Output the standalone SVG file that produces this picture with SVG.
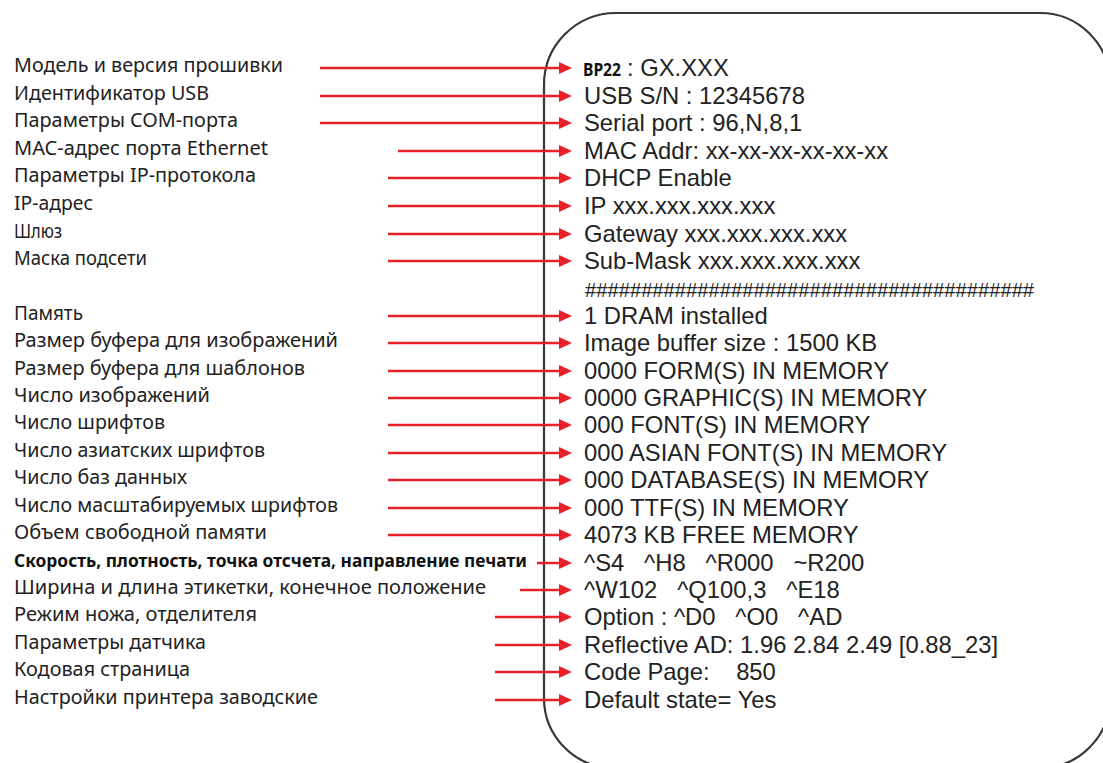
<svg xmlns="http://www.w3.org/2000/svg" width="1103" height="763" viewBox="0 0 1103 763">
<style>
.lbl{font-family:"Noto Sans","Liberation Sans",sans-serif;font-size:19px;fill:#222}
.lblb{font-family:"Noto Sans","Liberation Sans",sans-serif;font-size:18.5px;font-weight:bold;fill:#111}
.val{font-family:"Liberation Sans",Arial,sans-serif;font-size:23.8px;fill:#222}
.arr{stroke:#e8202a;stroke-width:2.5;fill:none}
.box{fill:none;stroke:#383838;stroke-width:2.2}
</style>
<defs>
<marker id="ah" markerUnits="userSpaceOnUse" markerWidth="14" markerHeight="14" refX="0" refY="6" orient="auto">
<path d="M0,0 L13,6 L0,12 Z" fill="#e8202a"/>
</marker>
</defs>
<rect width="1103" height="763" fill="#fff"/>
<g id="printout">
<path class="box" d="M544,85 A72 72 0 0 1 616,13 L1040,13 A70 70 0 0 1 1110,83 L1110,698 A70 70 0 0 1 1040,768 L614,768 A70 70 0 0 1 544,698 Z"/>
<text x="583" y="76" font-family="Noto Sans,Liberation Sans,sans-serif" font-weight="bold" font-size="18.5px" fill="#111" textLength="38" lengthAdjust="spacingAndGlyphs">BP22</text>
<text class="val" x="627" y="76">: GX.XXX</text>
<text class="val" x="584" y="104">USB S/N : 12345678</text>
<text class="val" x="584" y="131">Serial port : 96,N,8,1</text>
<text class="val" x="584" y="159">MAC Addr: xx-xx-xx-xx-xx-xx</text>
<text class="val" x="584" y="186">DHCP Enable</text>
<text class="val" x="584" y="214">IP xxx.xxx.xxx.xxx</text>
<text class="val" x="584" y="242">Gateway xxx.xxx.xxx.xxx</text>
<text class="val" x="584" y="269">Sub-Mask xxx.xxx.xxx.xxx</text>
<text class="val" x="585" y="297" style="font-size:20.2px">########################################</text>
<text class="val" x="584" y="324">1 DRAM installed</text>
<text class="val" x="584" y="351">Image buffer size : 1500 KB</text>
<text class="val" x="584" y="379">0000 FORM(S) IN MEMORY</text>
<text class="val" x="584" y="406">0000 GRAPHIC(S) IN MEMORY</text>
<text class="val" x="584" y="433">000 FONT(S) IN MEMORY</text>
<text class="val" x="584" y="461">000 ASIAN FONT(S) IN MEMORY</text>
<text class="val" x="584" y="488">000 DATABASE(S) IN MEMORY</text>
<text class="val" x="584" y="516">000 TTF(S) IN MEMORY</text>
<text class="val" x="584" y="543">4073 KB FREE MEMORY</text>
<text class="val" x="584" y="571" xml:space="preserve">^S4   ^H8   ^R000   ~R200</text>
<text class="val" x="584" y="598" xml:space="preserve">^W102   ^Q100,3   ^E18</text>
<text class="val" x="584" y="625" xml:space="preserve">Option : ^D0   ^O0   ^AD</text>
<text class="val" x="584" y="653">Reflective AD: 1.96 2.84 2.49 [0.88_23]</text>
<text class="val" x="584" y="680" xml:space="preserve">Code Page:    850</text>
<text class="val" x="584" y="708">Default state= Yes</text>
</g>
<g id="labels">
<text class="lbl" x="14" y="72" textLength="269" lengthAdjust="spacingAndGlyphs">Модель и версия прошивки</text>
<text class="lbl" x="14" y="100" textLength="195" lengthAdjust="spacingAndGlyphs">Идентификатор USB</text>
<text class="lbl" x="14" y="127" textLength="224" lengthAdjust="spacingAndGlyphs">Параметры COM-порта</text>
<text class="lbl" x="14" y="155" textLength="254" lengthAdjust="spacingAndGlyphs">MAC-адрес порта Ethernet</text>
<text class="lbl" x="14" y="182" textLength="242" lengthAdjust="spacingAndGlyphs">Параметры IP-протокола</text>
<text class="lbl" x="14" y="210" textLength="79" lengthAdjust="spacingAndGlyphs">IP-адрес</text>
<text class="lbl" x="14" y="238" textLength="48" lengthAdjust="spacingAndGlyphs">Шлюз</text>
<text class="lbl" x="14" y="265" textLength="133" lengthAdjust="spacingAndGlyphs">Маска подсети</text>
<text class="lbl" x="14" y="320" textLength="69" lengthAdjust="spacingAndGlyphs">Память</text>
<text class="lbl" x="14" y="347" textLength="324" lengthAdjust="spacingAndGlyphs">Размер буфера для изображений</text>
<text class="lbl" x="14" y="375" textLength="291" lengthAdjust="spacingAndGlyphs">Размер буфера для шаблонов</text>
<text class="lbl" x="14" y="402" textLength="196" lengthAdjust="spacingAndGlyphs">Число изображений</text>
<text class="lbl" x="14" y="429" textLength="151" lengthAdjust="spacingAndGlyphs">Число шрифтов</text>
<text class="lbl" x="14" y="457" textLength="251" lengthAdjust="spacingAndGlyphs">Число азиатских шрифтов</text>
<text class="lbl" x="14" y="484" textLength="173" lengthAdjust="spacingAndGlyphs">Число баз данных</text>
<text class="lbl" x="14" y="512" textLength="324" lengthAdjust="spacingAndGlyphs">Число масштабируемых шрифтов</text>
<text class="lbl" x="14" y="539" textLength="253" lengthAdjust="spacingAndGlyphs">Объем свободной памяти</text>
<text class="lblb" x="14" y="567" textLength="513" lengthAdjust="spacingAndGlyphs">Скорость, плотность, точка отсчета, направление печати</text>
<text class="lbl" x="14" y="594" textLength="472" lengthAdjust="spacingAndGlyphs">Ширина и длина этикетки, конечное положение</text>
<text class="lbl" x="14" y="621" textLength="243" lengthAdjust="spacingAndGlyphs">Режим ножа, отделителя</text>
<text class="lbl" x="14" y="649" textLength="192" lengthAdjust="spacingAndGlyphs">Параметры датчика</text>
<text class="lbl" x="14" y="676" textLength="176" lengthAdjust="spacingAndGlyphs">Кодовая страница</text>
<text class="lbl" x="14" y="704" textLength="304" lengthAdjust="spacingAndGlyphs">Настройки принтера заводские</text>
</g>
<g id="connectors">
<line class="arr" x1="320" y1="68" x2="559" y2="68" marker-end="url(#ah)"/>
<line class="arr" x1="320" y1="96" x2="559" y2="96" marker-end="url(#ah)"/>
<line class="arr" x1="320" y1="123" x2="559" y2="123" marker-end="url(#ah)"/>
<line class="arr" x1="398" y1="151" x2="559" y2="151" marker-end="url(#ah)"/>
<line class="arr" x1="388" y1="178" x2="559" y2="178" marker-end="url(#ah)"/>
<line class="arr" x1="388" y1="206" x2="559" y2="206" marker-end="url(#ah)"/>
<line class="arr" x1="388" y1="234" x2="559" y2="234" marker-end="url(#ah)"/>
<line class="arr" x1="388" y1="261" x2="559" y2="261" marker-end="url(#ah)"/>
<line class="arr" x1="388" y1="316" x2="559" y2="316" marker-end="url(#ah)"/>
<line class="arr" x1="388" y1="343" x2="559" y2="343" marker-end="url(#ah)"/>
<line class="arr" x1="388" y1="371" x2="559" y2="371" marker-end="url(#ah)"/>
<line class="arr" x1="388" y1="398" x2="559" y2="398" marker-end="url(#ah)"/>
<line class="arr" x1="388" y1="425" x2="559" y2="425" marker-end="url(#ah)"/>
<line class="arr" x1="388" y1="453" x2="559" y2="453" marker-end="url(#ah)"/>
<line class="arr" x1="388" y1="480" x2="559" y2="480" marker-end="url(#ah)"/>
<line class="arr" x1="388" y1="508" x2="559" y2="508" marker-end="url(#ah)"/>
<line class="arr" x1="388" y1="535" x2="559" y2="535" marker-end="url(#ah)"/>
<line class="arr" x1="537" y1="563" x2="559" y2="563" marker-end="url(#ah)"/>
<line class="arr" x1="520" y1="590" x2="559" y2="590" marker-end="url(#ah)"/>
<line class="arr" x1="495" y1="617" x2="559" y2="617" marker-end="url(#ah)"/>
<line class="arr" x1="495" y1="645" x2="559" y2="645" marker-end="url(#ah)"/>
<line class="arr" x1="495" y1="672" x2="559" y2="672" marker-end="url(#ah)"/>
<line class="arr" x1="495" y1="700" x2="559" y2="700" marker-end="url(#ah)"/>
</g>
</svg>
